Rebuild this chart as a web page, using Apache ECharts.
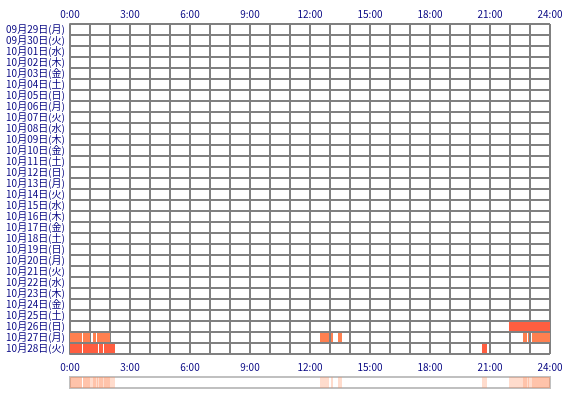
<!DOCTYPE html>
<html><head><meta charset="utf-8">
<script src="https://cdn.jsdelivr.net/npm/echarts@6/dist/echarts.min.js"></script>
<style>html,body{margin:0;padding:0;background:#fff}#c{width:570px;height:400px}</style>
</head><body><div id="c"></div>
<script>
var days = ['09月29日(月)','09月30日(火)','10月01日(水)','10月02日(木)','10月03日(金)','10月04日(土)','10月05日(日)',
'10月06日(月)','10月07日(火)','10月08日(水)','10月09日(木)','10月10日(金)','10月11日(土)','10月12日(日)',
'10月13日(月)','10月14日(火)','10月15日(水)','10月16日(木)','10月17日(金)','10月18日(土)','10月19日(日)',
'10月20日(月)','10月21日(火)','10月22日(水)','10月23日(木)','10月24日(金)','10月25日(土)','10月26日(日)',
'10月27日(月)','10月28日(火)'];
var hourTicks = ['0:00','3:00','6:00','9:00','12:00','15:00','18:00','21:00','24:00'];
// [day label, start hour, end hour, level]
var sessions = [
  ['10月26日(日)', 21.95, 24.0, 2],
  ['10月27日(月)', 0.0, 0.6, 1],
  ['10月27日(月)', 0.65, 1.0, 1],
  ['10月27日(月)', 1.15, 1.3, 1],
  ['10月27日(月)', 1.35, 2.0, 1],
  ['10月27日(月)', 12.5, 12.95, 1],
  ['10月27日(月)', 13.05, 13.15, 1],
  ['10月27日(月)', 13.4, 13.6, 1],
  ['10月27日(月)', 22.65, 22.85, 1],
  ['10月27日(月)', 22.9, 22.95, 1],
  ['10月27日(月)', 23.1, 24.0, 1],
  ['10月28日(火)', 0.0, 0.6, 2],
  ['10月28日(火)', 0.65, 1.4, 2],
  ['10月28日(火)', 1.45, 1.65, 2],
  ['10月28日(火)', 1.7, 2.25, 2],
  ['10月28日(火)', 20.6, 20.85, 2]
];
var levelColors = {1:'#FF8050', 2:'#FF5E40'};

var chart = echarts.init(document.getElementById('c'));
var lab = {color:'#000080', fontSize:10, fontFamily:'Noto Sans CJK JP'};
function hourFmt(v){ return (v % 3 === 0) ? hourTicks[v / 3] : ''; }

chart.setOption({
  animation:false,
  grid:[
    {left:70, top:24, width:480, height:330, show:false},
    {left:70, top:377, width:480, height:11, show:true, borderColor:'#c0c0c0', borderWidth:2, backgroundColor:'#fff'}
  ],
  xAxis:[
    {type:'value', gridIndex:0, min:0, max:24, interval:1, position:'top',
     axisLine:{show:false}, axisTick:{show:false},
     axisLabel:Object.assign({formatter:hourFmt, margin:5, showMinLabel:true, showMaxLabel:true}, lab),
     splitLine:{show:true, lineStyle:{color:'#808080', width:2}}},
    {type:'value', gridIndex:0, min:0, max:24, interval:3, position:'bottom',
     axisLine:{show:false}, axisTick:{show:false},
     axisLabel:Object.assign({formatter:hourFmt, margin:8, showMinLabel:true, showMaxLabel:true}, lab), splitLine:{show:false}},
    {type:'value', gridIndex:1, min:0, max:24, interval:3, show:false}
  ],
  yAxis:[
    {type:'category', gridIndex:0, data:days, inverse:true,
     axisLine:{show:true, lineStyle:{color:'#808080', width:2}}, axisTick:{show:false},
     axisLabel:Object.assign({margin:5, interval:0}, lab),
     splitLine:{show:true, interval:0, lineStyle:{color:'#808080', width:2}}},
    {type:'category', gridIndex:1, data:['all'], show:false}
  ],
  series:[
    {type:'custom', xAxisIndex:0, yAxisIndex:0,
     encode:{x:[1,2], y:0},
     data:sessions,
     renderItem:function(params, api){
       var s = api.coord([api.value(1), api.value(0)]);
       var e = api.coord([api.value(2), api.value(0)]);
       var h = api.size([0,1])[1];
       return {type:'rect', shape:{x:s[0], y:s[1]-h/2+1, width:e[0]-s[0], height:h-2},
               style:{fill:levelColors[api.value(3)]}};
     }},
    {type:'custom', xAxisIndex:2, yAxisIndex:1,
     encode:{x:[1,2]},
     data:sessions,
     renderItem:function(params, api){
       var s = api.coord([api.value(1), 0]);
       var e = api.coord([api.value(2), 0]);
       var h = api.size([0,1])[1];
       return {type:'rect', shape:{x:s[0], y:s[1]-h/2, width:e[0]-s[0], height:h},
               style:{fill:'rgba(255,140,90,0.3)'}};
     }},
    {type:'line', xAxisIndex:1, yAxisIndex:0, data:[], silent:true}
  ]
});
</script></body></html>
